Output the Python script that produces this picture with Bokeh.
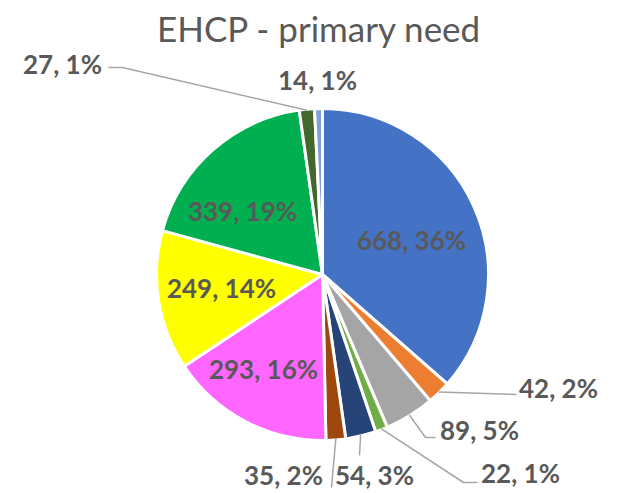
import numpy as np
from bokeh.plotting import figure
from bokeh.models import ColumnDataSource, Range1d
from bokeh.core.properties import value
from bokeh.embed import file_html
from bokeh.resources import INLINE

# ---- data (clockwise from 12 o'clock) ----
values = [668, 42, 89, 22, 54, 35, 293, 249, 339, 27, 14]
colors = ["#4472C4", "#ED7D31", "#A5A5A5", "#70AD47", "#264478", "#9E480E",
          "#FF66FF", "#FFFF00", "#00B050", "#43682B", "#7F9FD8"]
title_text = "EHCP - primary need"

# ---- layout (page pixels) ----
W, H = 617, 493
def X(px): return px
def Y(py): return H - py

center_px = (322, 274)
R = 166

label_pos = [(411, 239), (558, 387), (479, 429), (520, 472), (374, 474), (283, 474),
             (263, 368), (221, 287), (242, 210), (62, 63), (317, 79)]
# leader-line elbow/end points (page px) for outside labels; None = no leader
leader_pts = [None, [(516, 394)], [(425, 437), (435, 437)], [(463, 482), (477, 482)],
              [(359, 455)], [(331, 487)], None, None, None, [(122, 67), (108, 67)], None]

total = float(sum(values))
frac = np.array(values) / total
cum_end = np.cumsum(frac)
cum_start = cum_end - frac
start = np.pi / 2 - 2 * np.pi * cum_end
end = np.pi / 2 - 2 * np.pi * cum_start
mid = (start + end) / 2

cx, cy = X(center_px[0]), Y(center_px[1])

p = figure(width=W, height=H, output_backend="svg", toolbar_location=None,
           x_range=Range1d(0, W), y_range=Range1d(0, H), min_border=0)
p.axis.visible = False
p.grid.visible = False
p.outline_line_color = None
p.background_fill_color = "white"
p.border_fill_color = "white"

src = ColumnDataSource(dict(start=start, end=end, color=colors))
p.wedge(x=cx, y=cy, radius=R, start_angle="start", end_angle="end",
        fill_color="color", line_color="white", line_width=3, source=src)

# leader lines
xs, ys = [], []
for i, pts in enumerate(leader_pts):
    if pts is None:
        continue
    sx = cx + (R - 1) * np.cos(mid[i])
    sy = cy + (R - 1) * np.sin(mid[i])
    lx = [sx] + [X(a) for a, b in pts]
    ly = [sy] + [Y(b) for a, b in pts]
    xs.append(lx)
    ys.append(ly)
p.multi_line(xs=xs, ys=ys, line_color="#A6A6A6", line_width=1.5)

labels = [f"{v}, {round(v / total * 100)}%" for v in values]
p.text(x=[X(a) for a, b in label_pos], y=[Y(b) for a, b in label_pos], text=labels,
       text_font=value("Lato"), text_font_style="bold", text_font_size="26px",
       text_color="#595959", text_align="center", text_baseline="middle")

p.text(x=[X(319)], y=[Y(27)], text=[title_text], text_font=value("Lato"),
       text_font_size="35px", text_color="#595959", text_align="center",
       text_baseline="middle")

open("out.html", "w").write(file_html(p, INLINE))
